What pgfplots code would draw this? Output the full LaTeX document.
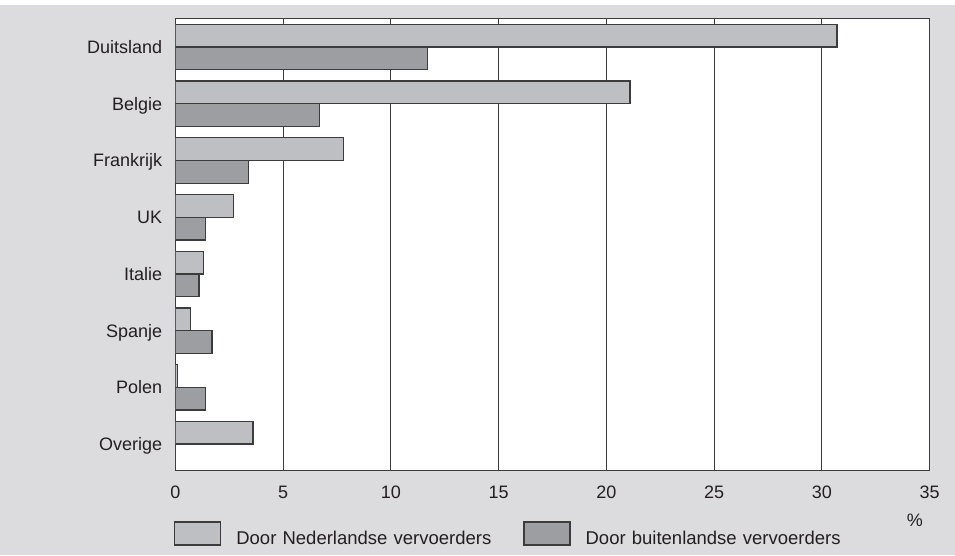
\documentclass[border=0pt]{standalone}
\usepackage{fontspec}
\setmainfont{Liberation Sans}
\usepackage{pgfplots}
\usepackage{pgfplotstable}
\pgfplotsset{compat=1.18}

\definecolor{bggray}{HTML}{DCDCDE}
\definecolor{barlight}{HTML}{BEBFC3}
\definecolor{bardark}{HTML}{9D9EA2}
\definecolor{edgegray}{HTML}{3C3C3C}
\definecolor{txt}{HTML}{231F20}

% share per country (%), y = row position from the bottom
\pgfplotstableread{
y  nl    bu
7  30.7  11.7
6  21.1  6.7
5  7.8   3.4
4  2.7   1.4
3  1.3   1.1
2  0.7   1.7
1  0.1   1.4
0  3.6   0
}\shares

\newcommand{\lbl}{\fontsize{18pt}{21pt}\selectfont}
\newcommand{\leglbl}{\fontsize{18.5pt}{21pt}\selectfont}

% rectangular legend swatch followed by a fixed gap before the text
\pgfplotsset{boxlegend/.style={legend image code/.code={%
  \draw[##1] (0pt,-11.5pt) rectangle (46pt,11.5pt);
  \path (61pt,0pt);}}}

\begin{document}
\begin{tikzpicture}[x=1pt,y=1pt]
\path[use as bounding box] (0,0) rectangle (955,555);
\fill[bggray] (0,0) rectangle (955,550);
\begin{axis}[
  at={(175.3pt,84.3pt)}, anchor=south west,
  scale only axis, width=754.4pt, height=452pt,
  xmin=0, xmax=35, ymin=-0.47, ymax=7.5,
  xtick={0,5,...,35},
  ytick={0,...,7},
  yticklabels={Overige,Polen,Spanje,Italie,UK,Frankrijk,Belgie,Duitsland},
  xmajorgrids,
  grid style={edgegray, line width=1pt},
  axis line style={edgegray, line width=1.3pt},
  tick style={draw=none},
  major tick length=0pt,
  axis background/.style={fill=white},
  /pgf/number format/assume math mode=true,
  tick label style={font=\lbl, text=txt, inner sep=0pt,
    text height=12.9pt, text depth=0pt},
  xticklabel style={anchor=north},
  yticklabel style={anchor=east},
  xticklabel shift=14.5pt,
  yticklabel shift=13pt,
  xlabel={\%},
  xlabel style={font=\lbl, text=txt, inner sep=0pt, anchor=center,
    text height=12.9pt, text depth=0pt,
    at={(axis description cs:0.9805,-0.109)}},
  legend columns=2,
  legend cell align=left,
  legend style={draw=none, fill=none, inner sep=0pt, outer sep=0pt,
    at={(axis description cs:-0.0017,-0.1387)}, anchor=west,
    column sep=0pt,
    nodes={inner sep=0pt, text width=287pt, align=left, font=\leglbl,
      text=txt, text height=13.3pt, text depth=0pt, anchor=west,
      yshift=-4pt}},
]
\addplot[xbar, bar width=0.4, bar shift=0.2, fill=barlight,
  draw=edgegray, line width=1.3pt, boxlegend]
  table[x=nl, y=y] {\shares};
\addlegendentry{Door Nederlandse vervoerders}
\addplot[xbar, bar width=0.4, bar shift=-0.2, fill=bardark,
  draw=edgegray, line width=1.3pt, boxlegend]
  table[x=bu, y=y] {\shares};
\addlegendentry{Door buitenlandse vervoerders}
\end{axis}
\end{tikzpicture}
\end{document}
